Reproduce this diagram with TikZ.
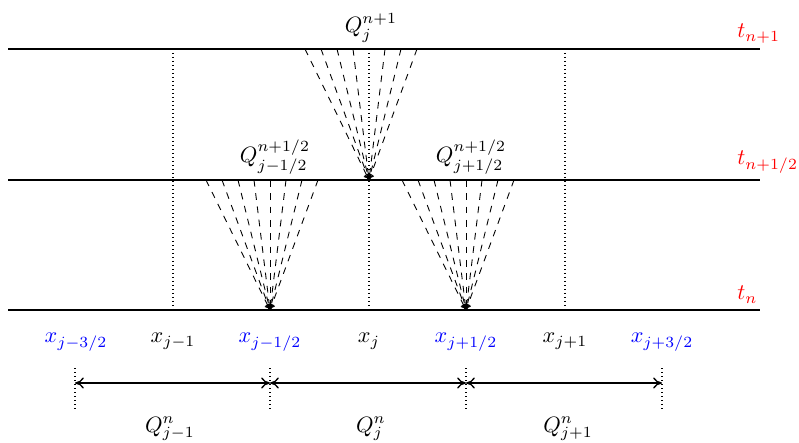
\documentclass[tikz,border=0pt]{standalone}
\usepackage{amsmath}
\usepackage{xcolor}
\usetikzlibrary{arrows.meta, positioning, calc}
\tikzset{
  level/.style={semithick},
  grid/.style={dash pattern=on 0.5pt off 1.3pt, line width=0.55pt},
  ray/.style={dashed, thin, -{To[length=2.5pt,width=3pt]}},
  cell/.style={semithick, {To[length=4pt,width=5pt]}-{To[length=4pt,width=5pt]}},
  tlabel/.style={anchor=base west, text=red, inner sep=0pt},
  xlabel/.style={anchor=base, inner sep=0pt},
  half/.style={xlabel, text=blue}
}

\begin{document}
\begin{tikzpicture}[x=0.45pt, y=-0.45pt]
    \useasboundingbox (0,0) rectangle (799,443);

    % time levels
    \coordinate (n1L) at (8,49);   \coordinate (n1R) at (760,49);
    \coordinate (nhL) at (8,180);  \coordinate (nhR) at (760,180);
    \coordinate (n0L) at (8,310);  \coordinate (n0R) at (760,310);
    \draw[level] (n1L) -- (n1R);
    \draw[level] (nhL) -- (nhR);
    \draw[level] (n0L) -- (n0R);
    \node[tlabel] (tn1) at (737,38) {$t_{n+1}$};
    \node[tlabel] (tnh) at (737,165) {$t_{n+1/2}$};
    \node[tlabel] (tn0) at (737,300) {$t_n$};

    % cell centres
    \foreach \name/\xx in {jm/173, j/369, jp/565} {
        \coordinate (\name top) at (\xx,49);
        \coordinate (\name bot) at (\xx,310);
        \draw[grid] (\name top) -- (\name bot);
    }

    % characteristic fans
    \coordinate (apexL) at (270,310);
    \coordinate (apexR) at (466,310);
    \coordinate (apexC) at (369,180);
    \foreach \d in {-64,-48,-32,-16,0,16,32,48} {
        \coordinate (fL) at ($(apexL)+(\d,-130)$);
        \coordinate (fR) at ($(apexR)+(\d,-130)$);
        \draw[ray] (fL) -- (apexL);
        \draw[ray] (fR) -- (apexR);
    }
    \foreach \d in {-64,-48,-32,-16,16,32,48} {
        \coordinate (fC) at ($(apexC)+(\d,-131)$);
        \draw[ray] (fC) -- (apexC);
    }
    \node[xlabel] (Qhl) at (275,163) {$Q_{j-1/2}^{n+1/2}$};
    \node[xlabel] (Qhr) at (471,163) {$Q_{j+1/2}^{n+1/2}$};
    \node[xlabel] (Qn1) at (371,33) {$Q_j^{n+1}$};

    % grid points
    \node[half]   (x3m) at (76,343)  {$x_{j-3/2}$};
    \node[xlabel] (x1m) at (173,343) {$x_{j-1}$};
    \node[half]   (xhm) at (270,343) {$x_{j-1/2}$};
    \node[xlabel] (x0)  at (369,343) {$x_j$};
    \node[half]   (xhp) at (466,343) {$x_{j+1/2}$};
    \node[xlabel] (x1p) at (565,343) {$x_{j+1}$};
    \node[half]   (x3p) at (662,343) {$x_{j+3/2}$};

    % cells
    \foreach \name/\xx in {a/75, b/270, c/466, d/662} {
        \coordinate (\name up) at (\xx,368);
        \coordinate (\name lo) at (\xx,412);
        \coordinate (\name) at (\xx,383);
        \draw[grid] (\name up) -- (\name lo);
    }
    \draw[cell] (a) -- (b);
    \draw[cell] (b) -- (c);
    \draw[cell] (c) -- (d);
    \node[xlabel] (Qjm) at (170,432) {$Q_{j-1}^n$};
    \node[xlabel] (Qj)  at (371,432) {$Q_j^n$};
    \node[xlabel] (Qjp) at (568,432) {$Q_{j+1}^n$};
\end{tikzpicture}
\end{document}
